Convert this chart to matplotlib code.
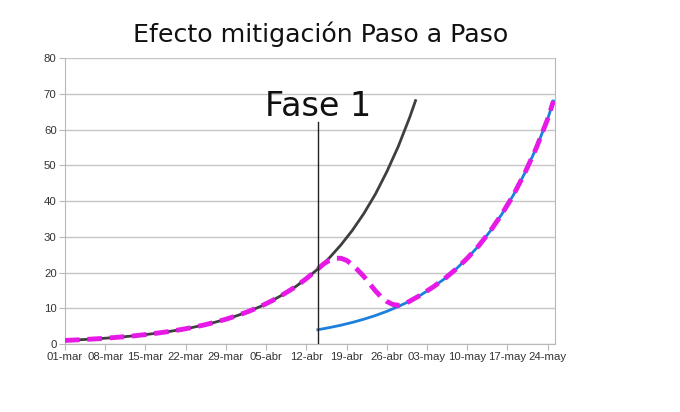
import matplotlib
matplotlib.use("Agg")
import matplotlib.pyplot as plt

# days counted from 01-mar
tick_days = [0, 7, 14, 21, 28, 35, 42, 49, 56, 63, 70, 77, 84]
tick_labels = ["01-mar", "08-mar", "15-mar", "22-mar", "29-mar", "05-abr", "12-abr",
               "19-abr", "26-abr", "03-may", "10-may", "17-may", "24-may"]

# sin medidas (curva negra)
base_days = [0, 2, 4, 6, 8, 10, 12, 14, 16, 18, 20, 22, 24, 26, 28, 30, 32, 34, 36,
             38, 40, 42, 44, 46, 48, 50, 52, 54, 56, 58, 60, 61]
base_vals = [1.0, 1.15, 1.32, 1.51, 1.74, 2.0, 2.29, 2.64, 3.03, 3.48, 3.99, 4.58,
             5.26, 6.05, 6.94, 7.97, 9.16, 10.5, 12.1, 13.9, 15.9, 18.3, 21.0, 24.1,
             27.7, 31.8, 36.5, 41.9, 48.2, 55.3, 63.5, 68.1]

# con mitigacion (curva azul)
mit_days = [44, 46, 48, 50, 52, 54, 56, 58, 60, 62, 64, 66, 68, 70, 72, 74, 76, 78,
            80, 82, 84, 85]
mit_vals = [4.0, 4.59, 5.26, 6.04, 6.94, 7.96, 9.14, 10.5, 12.0, 13.8, 15.9, 18.2,
            20.9, 24.0, 27.5, 31.6, 36.3, 41.6, 47.8, 54.8, 63.0, 68.0]

# casos esperados (linea discontinua)
real_days = [0, 2, 4, 6, 8, 10, 12, 14, 16, 18, 20, 22, 24, 26, 28, 30, 32, 34, 36,
             38, 40, 42, 44, 45, 46, 47, 48, 49, 50, 51, 52, 53, 54, 55, 56, 57, 58,
             59, 60, 62, 64, 66, 68, 70, 72, 74, 76, 78, 80, 82, 84, 85]
real_vals = [1.0, 1.15, 1.32, 1.51, 1.74, 2.0, 2.29, 2.64, 3.03, 3.48, 3.99, 4.58,
             5.26, 6.05, 6.94, 7.97, 9.16, 10.5, 12.1, 13.9, 15.9, 18.3, 21.0, 22.4,
             23.4, 24.0, 24.0, 23.4, 22.2, 20.6, 18.9, 16.9, 14.9, 13.2, 11.9, 11.1,
             10.8, 11.1, 12.0, 13.8, 15.9, 18.2, 20.9, 24.0, 27.5, 31.6, 36.3, 41.6,
             47.8, 54.8, 63.0, 68.0]

fase_day = 44

fig = plt.figure(figsize=(6.8, 4.12), dpi=100)
ax = fig.add_axes([0.0956, 0.165, 0.72, 0.694])

ax.plot(base_days, base_vals, color="#3f3f3f", linewidth=2, zorder=3)
ax.plot(mit_days, mit_vals, color="#1c7fdc", linewidth=2, zorder=3)
ax.plot(real_days, real_vals, color="#e619e6", linewidth=3.5, linestyle=(0, (3, 1.6)),
        zorder=4)

ax.plot([fase_day, fase_day], [0, 62], color="#222222", linewidth=1, zorder=5)
ax.text(fase_day, 63.8, "Fase 1", fontsize=24, ha="center", va="baseline",
        family="DejaVu Sans", color="#111111")

ax.set_xlim(0, 85.2)
ax.set_ylim(0, 80)
ax.set_yticks(range(0, 81, 10))
ax.set_xticks(tick_days)
ax.set_xticklabels(tick_labels)
for lab in ax.get_xticklabels() + ax.get_yticklabels():
    lab.set_family("Liberation Sans")
    lab.set_fontsize(8.2)
    lab.set_color("#333333")

ax.grid(axis="y", color="#c6c6c6", linewidth=1)
ax.set_axisbelow(True)
for side in ["left", "bottom", "right"]:
    ax.spines[side].set_color("#b8b8b8")
ax.spines["top"].set_visible(False)
ax.tick_params(colors="#b8b8b8", length=4, pad=2, labelcolor="#333333")

fig.text(0.472, 0.899, "Efecto mitigación Paso a Paso", fontsize=18.2, ha="center",
         va="baseline", family="DejaVu Sans", color="#111111")

fig.savefig("out.png", dpi=100)
